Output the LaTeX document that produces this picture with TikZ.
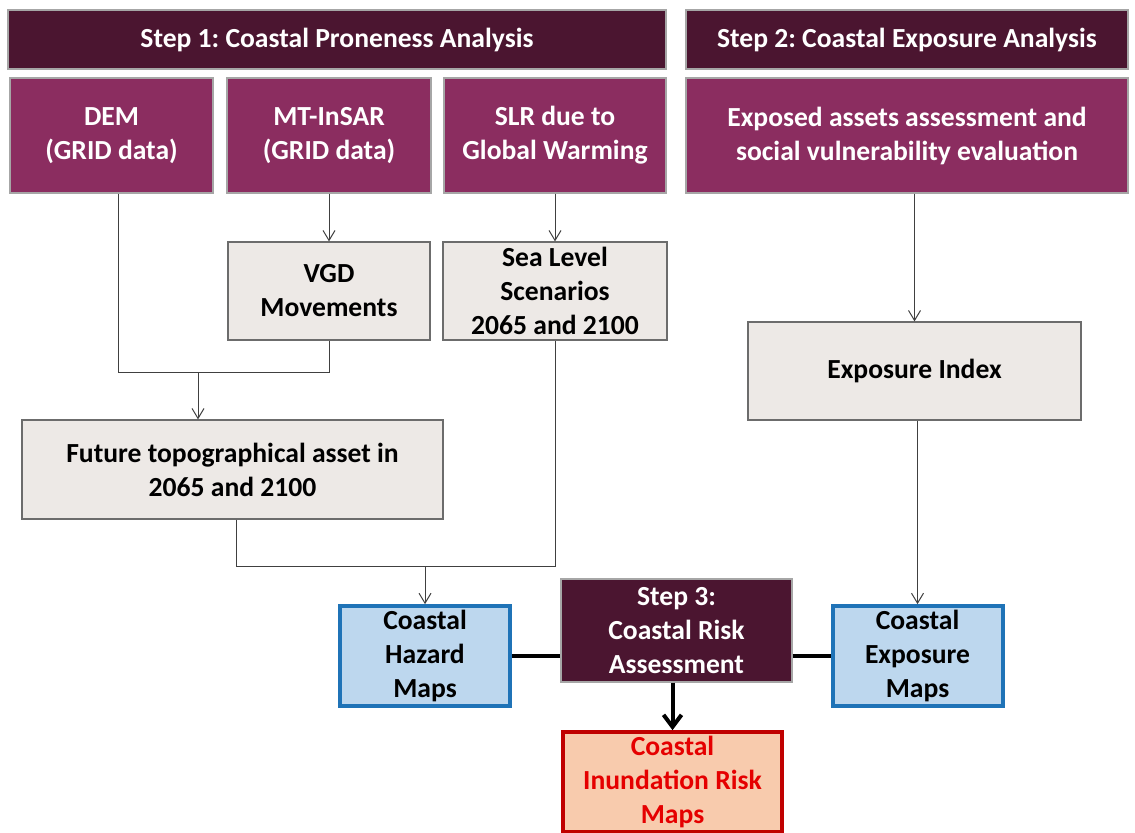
\documentclass[tikz,border=0pt]{standalone}
\usepackage{fontspec}
\setmainfont{Carlito}
\usetikzlibrary{positioning}
\usetikzlibrary{arrows.meta}

\definecolor{stepdark}{HTML}{4B1530}
\definecolor{inputpurple}{HTML}{8B2D60}
\definecolor{procgray}{HTML}{EDE9E6}
\definecolor{mapblue}{HTML}{BDD7EE}
\definecolor{mapborder}{HTML}{1F73B7}
\definecolor{riskfill}{HTML}{F8CBAD}
\definecolor{riskred}{HTML}{C00000}

\begin{document}
\frenchspacing
\begin{tikzpicture}[x=0.5pt,y=-0.5pt,
    every node/.style={align=center, font=\fontsize{13.8}{17}\selectfont\bfseries, inner sep=2pt},
    header/.style={fill=stepdark, draw=gray!70, line width=0.6pt, text=white, minimum height=29.5pt},
    inputbox/.style={fill=inputpurple, draw=gray!70, line width=0.6pt, text=white, minimum height=57.5pt},
    procbox/.style={fill=procgray, draw=gray!85!black, line width=0.6pt, text=black, minimum height=49pt},
    mapbox/.style={fill=mapblue, draw=mapborder, line width=2pt, text=black, minimum width=85pt, minimum height=49pt},
    flow/.style={draw=black!75, line width=0.5pt},
    flowarr/.style={flow, -{Straight Barb[length=5pt,width=6pt]}},
    link/.style={draw=black, line width=2pt}]

  \useasboundingbox (0,0) rectangle (1135,832);

  % Cabeceras
  \node[header, minimum width=329pt] (step1) at (337,39.5) {Step 1: Coastal Proneness Analysis};
  \node[header, minimum width=221pt] (step2) at (907,39.5) {Step 2: Coastal Exposure Analysis};

  % Datos de entrada
  \node[inputbox, minimum width=101.5pt] (dem) at (111.5,135.5) {DEM\\(GRID data)};
  \node[inputbox, minimum width=102pt] (insar) at (329,135.5) {MT-InSAR\\(GRID data)};
  \node[inputbox, minimum width=111pt] (slr) at (555,135.5) {SLR due to\\Global Warming};
  \node[inputbox, minimum width=221pt] (assets) at (907,135.5) {Exposed assets assessment and\\social vulnerability evaluation};

  % Procesos intermedios
  \node[procbox, minimum width=101pt] (vgd) at (329,291) {VGD\\Movements};
  \node[procbox, minimum width=112pt] (sea) at (555,291) {Sea Level\\Scenarios\\2065 and 2100};
  \node[procbox, minimum width=166.5pt] (expidx) at (914.5,371) {Exposure Index};
  \node[procbox, minimum width=210.5pt, minimum height=49.5pt] (future) at (232.5,469.5) {Future topographical asset in\\2065 and 2100};

  % Mapas y evaluacion final
  \node[mapbox] (hazard) at (425,656) {Coastal\\Hazard\\Maps};
  \node[fill=stepdark, draw=gray!70, line width=0.6pt, text=white, minimum width=115.5pt, minimum height=51.5pt] (step3) at (676.5,630.5) {Step 3:\\Coastal Risk\\Assessment};
  \node[mapbox] (expmaps) at (917.5,656) {Coastal\\Exposure\\Maps};
  \node[fill=riskfill, draw=riskred, line width=2pt, text=red!90!black, minimum width=109.5pt, minimum height=47.5pt] (inund) at (672.5,782) {Coastal\\Inundation Risk\\Maps};

  % Uniones
  \coordinate (topojoin) at (198,372);
  \coordinate (hazjoin) at (425,566);

  \draw[flowarr] (insar) -- (vgd);
  \draw[flowarr] (slr.south) -- (sea.north);
  \draw[flow] ([xshift=3.25pt]dem.south) |- (vgd.south |- topojoin) -- (vgd.south);
  \draw[flowarr] (topojoin) -- (future.north -| topojoin);
  \draw[flow] ([xshift=1.75pt]future.south) |- (sea.south |- hazjoin) -- (sea.south);
  \draw[flowarr] (hazjoin) -- (hazard.north);
  \draw[flowarr] (assets.south -| expidx.north) -- (expidx.north);
  \draw[flowarr] (expmaps.north |- expidx.south) -- (expmaps.north);

  \draw[link] (hazard.east) -- (hazard.east -| step3.west);
  \draw[link] (step3.east |- expmaps.west) -- (expmaps.west);
  \draw[link, -{Straight Barb[length=6pt,width=9pt]}] (inund.north |- step3.south) -- (inund.north);

\end{tikzpicture}
\end{document}
